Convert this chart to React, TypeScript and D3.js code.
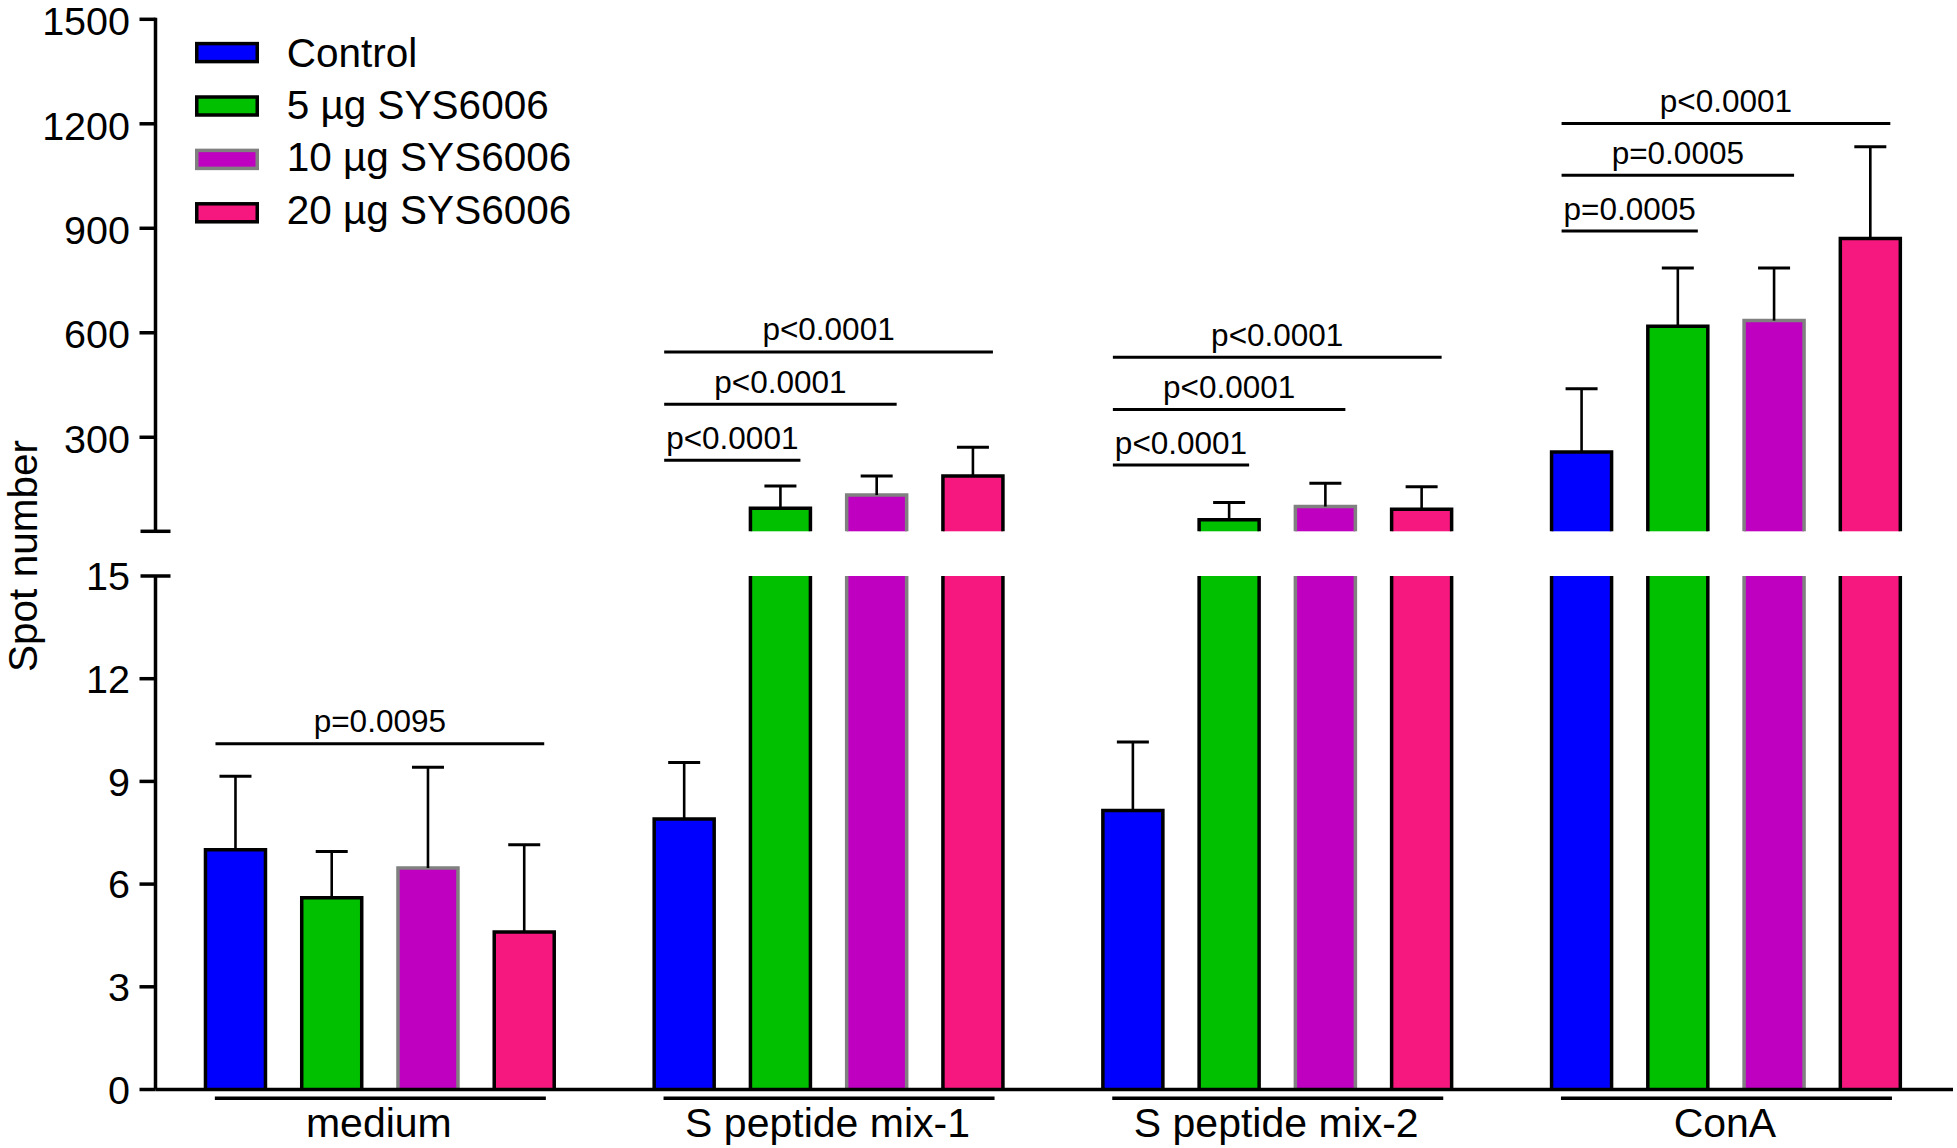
import React from "react";
import * as d3 from "d3";

// ---------- data ----------
const groups = ["medium", "S peptide mix-1", "S peptide mix-2", "ConA"];
const seriesNames = ["Control", "5 µg SYS6006", "10 µg SYS6006", "20 µg SYS6006"];
const seriesFill = ["#0000FF", "#00C000", "#C000C0", "#F7187F"];
const seriesStroke = ["#000000", "#000000", "#808080", "#000000"];

// mean values per group (medium, mix-1, mix-2, ConA)
const controlMean = [7.0, 7.9, 8.15, 258];
const controlSD = [2.15, 1.65, 2.0, 181];
const ug5Mean = [5.6, 96, 63, 619];
const ug5SD = [1.35, 64, 50, 167];
const ug10Mean = [6.47, 134, 101, 635];
const ug10SD = [2.94, 55, 67, 151];
const ug20Mean = [4.6, 189, 93, 871];
const ug20SD = [2.55, 82, 65, 263];

const means = [controlMean, ug5Mean, ug10Mean, ug20Mean];
const sds = [controlSD, ug5SD, ug10SD, ug20SD];

// axis segments
const lowerDomain = [0, 15];
const upperDomain = [30, 1500];
const lowerTicks = [0, 3, 6, 9, 12, 15];
const upperTicks = [300, 600, 900, 1200, 1500];

// significance brackets
const bracketGroup = [0, 1, 1, 1, 2, 2, 2, 3, 3, 3];
const bracketFrom = [0, 0, 0, 0, 0, 0, 0, 0, 0, 0];
const bracketTo = [3, 1, 2, 3, 1, 2, 3, 1, 2, 3];
const bracketLabel = [
  "p=0.0095",
  "p<0.0001", "p<0.0001", "p<0.0001",
  "p<0.0001", "p<0.0001", "p<0.0001",
  "p=0.0005", "p=0.0005", "p<0.0001",
];
const bracketY = [10.1, 234, 395, 545, 220, 380, 530, 892, 1052, 1201];

// ---------- layout ----------
const W = 1957;
const H = 1148;
const axisX = 155.5;
const FONT = "'Liberation Sans', Arial, Helvetica, sans-serif";

const yLower = d3.scaleLinear().domain(lowerDomain).range([1089.5, 576]);
const yUpper = d3.scaleLinear().domain(upperDomain).range([531.3, 19.3]);

const xGroup = d3.scaleBand<string>().domain(groups).range([axisX, 1950.3]).padding(0);
const xInner = d3
  .scaleBand<string>()
  .domain(seriesNames)
  .range([-192.5, 192.5])
  .paddingInner(0.3766)
  .paddingOuter(0.1883);

const bw = xInner.bandwidth();
const groupCenter = (g: number) => (xGroup(groups[g]) as number) + xGroup.bandwidth() / 2;
const barCenter = (g: number, s: number) =>
  groupCenter(g) + (xInner(seriesNames[s]) as number) + bw / 2;

type Seg = { lo: number; hi: number; scale: d3.ScaleLinear<number, number> };
const segments: Seg[] = [
  { lo: lowerDomain[0], hi: lowerDomain[1], scale: yLower },
  { lo: upperDomain[0], hi: upperDomain[1], scale: yUpper },
];

function BarSegment({ cx, value, seg, fill, stroke }: any) {
  if (value <= seg.lo) return null;
  const top = Math.min(value, seg.hi);
  const yb = seg.scale(seg.lo);
  const yt = seg.scale(top);
  const x0 = cx - bw / 2;
  const x1 = cx + bw / 2;
  const capped = value <= seg.hi;
  const d = capped
    ? `M${x0},${yb}L${x0},${yt}L${x1},${yt}L${x1},${yb}`
    : `M${x0},${yb}L${x0},${yt}M${x1},${yt}L${x1},${yb}`;
  return (
    <g>
      <rect x={x0} y={yt} width={bw} height={yb - yt} fill={fill} />
      <path d={d} fill="none" stroke={stroke} strokeWidth={3.5} strokeLinejoin="miter" />
    </g>
  );
}

export default function App() {
  const bars: any[] = [];
  const errs: any[] = [];
  groups.forEach((_, g) => {
    seriesNames.forEach((_, s) => {
      const v = means[s][g];
      const top = v + sds[s][g];
      const cx = barCenter(g, s);
      segments.forEach((seg, k) => {
        bars.push(
          <BarSegment
            key={`b${g}-${s}-${k}`}
            cx={cx}
            value={v}
            seg={seg}
            fill={seriesFill[s]}
            stroke={seriesStroke[s]}
          />
        );
      });
      const sc = v <= lowerDomain[1] ? yLower : yUpper;
      errs.push(
        <g key={`e${g}-${s}`} stroke="#000">
          <line x1={cx} x2={cx} y1={sc(v)} y2={sc(top)} strokeWidth={2.6} />
          <line x1={cx - 16} x2={cx + 16} y1={sc(top)} y2={sc(top)} strokeWidth={3} />
        </g>
      );
    });
  });

  const brackets = bracketY.map((yv, i) => {
    const g = bracketGroup[i];
    const sc = yv <= lowerDomain[1] ? yLower : yUpper;
    const y = sc(yv);
    const xa = barCenter(g, bracketFrom[i]) - 20;
    const xb = barCenter(g, bracketTo[i]) + 20;
    return (
      <g key={`br${i}`}>
        <line x1={xa} x2={xb} y1={y} y2={y} stroke="#000" strokeWidth={3} />
        <text
          x={(xa + xb) / 2}
          y={y - 11.5}
          textAnchor="middle"
          fontSize={31.5}
          fontFamily={FONT}
          fill="#000"
        >
          {bracketLabel[i]}
        </text>
      </g>
    );
  });

  return (
    <svg
      width={W}
      height={H}
      viewBox={`0 0 ${W} ${H}`}
      style={{ position: "absolute", left: 0, top: 0, background: "#fff" }}
    >
      <rect x={0} y={0} width={W} height={H} fill="#fff" />
      {bars}
      {errs}

      {/* y axis upper segment */}
      <g stroke="#000" strokeWidth={3.5}>
        <line x1={axisX} x2={axisX} y1={yUpper(upperDomain[1]) - 1.5} y2={yUpper(upperDomain[0])} />
        <line x1={axisX - 15} x2={axisX + 15} y1={yUpper(upperDomain[0])} y2={yUpper(upperDomain[0])} />
        {upperTicks.map((t) => (
          <line key={`ut${t}`} x1={axisX - 16} x2={axisX} y1={yUpper(t)} y2={yUpper(t)} />
        ))}
        {/* lower segment */}
        <line x1={axisX} x2={axisX} y1={yLower(lowerDomain[1])} y2={yLower(0)} />
        <line x1={axisX - 15} x2={axisX + 15} y1={yLower(lowerDomain[1])} y2={yLower(lowerDomain[1])} />
        {lowerTicks
          .filter((t) => t !== lowerDomain[1])
          .map((t) => (
            <line key={`lt${t}`} x1={axisX - 16} x2={axisX} y1={yLower(t)} y2={yLower(t)} />
          ))}
        {/* x axis */}
        <line x1={axisX} x2={1953} y1={yLower(0)} y2={yLower(0)} />
      </g>
      <g fontFamily={FONT} fontSize={39.5} fill="#000" textAnchor="end">
        {upperTicks.map((t) => (
          <text key={`utl${t}`} x={130} y={yUpper(t) + 1.5} dy="0.36em">
            {t}
          </text>
        ))}
        {lowerTicks.map((t) => (
          <text key={`ltl${t}`} x={130} y={yLower(t)} dy="0.36em">
            {t}
          </text>
        ))}
      </g>

      {/* y label */}
      <text
        transform="translate(37,556) rotate(-90)"
        textAnchor="middle"
        fontFamily={FONT}
        fontSize={40.5}
        fill="#000"
      >
        Spot number
      </text>

      {/* group underlines and labels */}
      {groups.map((g, i) => {
        const c = groupCenter(i);
        return (
          <g key={`gl${i}`}>
            <line x1={c - 165} x2={c + 166} y1={1098.3} y2={1098.3} stroke="#000" strokeWidth={3.5} />
            <text
              x={c - 1}
              y={1136.7}
              textAnchor="middle"
              fontFamily={FONT}
              fontSize={41}
              fill="#000"
            >
              {g}
            </text>
          </g>
        );
      })}

      {brackets}

      {/* legend */}
      {seriesNames.map((s, i) => {
        const cy = 52.6 + i * 53.4;
        return (
          <g key={`lg${i}`}>
            <rect
              x={196.75}
              y={cy - 9}
              width={60.5}
              height={18}
              fill={seriesFill[i]}
              stroke={seriesStroke[i]}
              strokeWidth={3.5}
            />
            <text x={286.7} y={67 + i * 52.2} fontFamily={FONT} fontSize={40.5} fill="#000">
              {s}
            </text>
          </g>
        );
      })}
    </svg>
  );
}
